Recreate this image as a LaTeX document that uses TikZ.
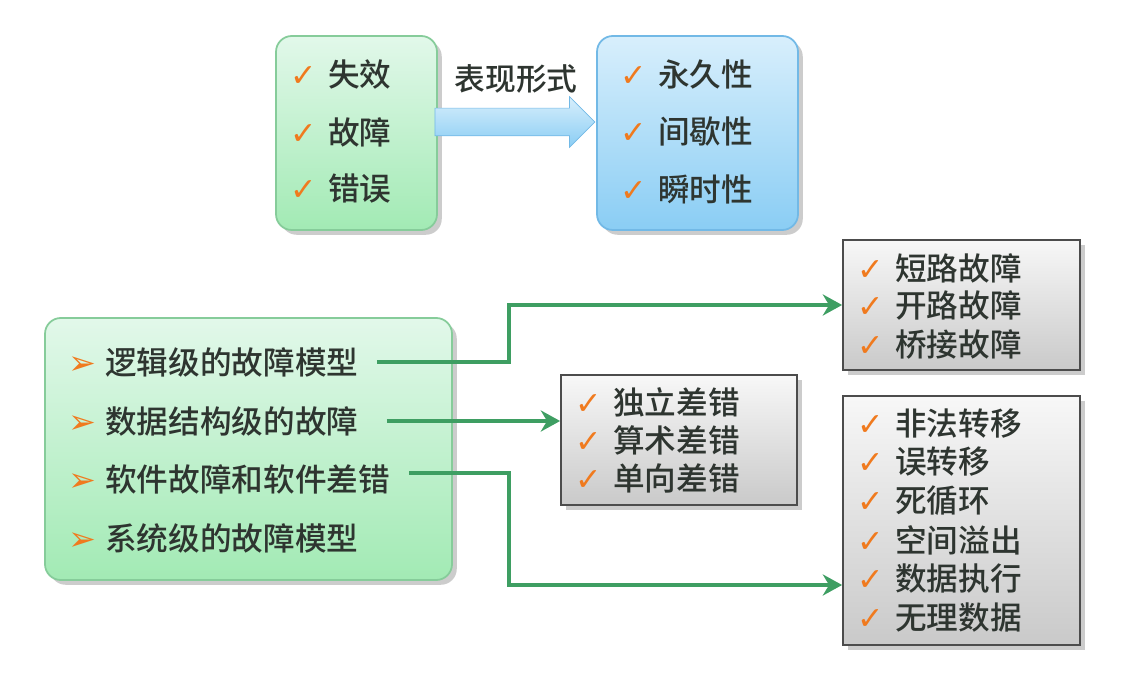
\documentclass[tikz,border=0pt]{standalone}
\usepackage{fontspec}
\setmainfont{Noto Sans CJK SC Medium}
\newfontfamily\symfont{DejaVu Sans}
\usepackage{xcolor}
\usetikzlibrary{positioning, arrows.meta, shapes.arrows, shadows, calc}

\definecolor{tickorange}{HTML}{F07A1E}
\definecolor{itemtext}{HTML}{2E3530}
\definecolor{linegreen}{HTML}{3E9E62}
\definecolor{greentop}{HTML}{E2F8EA}
\definecolor{greenbot}{HTML}{A2EAB4}
\definecolor{greenrim}{HTML}{86CC9A}
\definecolor{bluetop}{HTML}{D8EFFC}
\definecolor{bluebot}{HTML}{8ACDF4}
\definecolor{bluerim}{HTML}{72B9E6}

\newcommand{\tick}{\makebox[0.76cm][l]{\fontsize{18}{18}\selectfont\textcolor{tickorange}{\symfont ✓}}}
\newcommand{\pointer}{\makebox[0.74cm][l]{\fontsize{19}{19}\selectfont\textcolor{tickorange}{\symfont ➢}}}

\begin{document}
\begin{tikzpicture}[>=Stealth, font=\fontsize{18}{22}\selectfont,
  greenbox/.style={draw=greenrim, line width=1pt, rounded corners=9pt, top color=greentop, bottom color=greenbot, drop shadow={opacity=0.4}},
  bluebox/.style={draw=bluerim, line width=1pt, rounded corners=9pt, top color=bluetop, bottom color=bluebot, drop shadow={opacity=0.4}},
  graybox/.style={draw=black!70, line width=1pt, top color=gray!6, bottom color=gray!42, drop shadow={opacity=0.4}},
  item/.style={anchor=west, inner sep=0pt, text=itemtext},
  conn/.style={draw=linegreen, line width=2.4pt, -{Stealth[length=11pt, width=12pt]}}]
  \useasboundingbox (0,0) rectangle (22.6,13.5);

  % top row
  \node[greenbox, minimum width=3.22cm, minimum height=3.88cm] (kinds) at (7.13, 10.84) {};
  \node[bluebox, minimum width=4.02cm, minimum height=3.88cm] (forms) at (13.95, 10.84) {};
  \node[single arrow, draw=bluerim, top color=bluetop, bottom color=bluebot, minimum height=3.2cm, minimum width=1.0cm, single arrow head extend=0.23cm, inner xsep=0pt, inner ysep=0.27cm] (show) at (10.16, 11.06) {};
  \node[font=\fontsize{17.5}{20}\selectfont, text=itemtext] (showlabel) at (10.32, 11.92) {表现形式};

  \node[item] (k1) at (5.8, 12.0)  {\tick 失效};
  \node[item] (k2) at (5.8, 10.86) {\tick 故障};
  \node[item] (k3) at (5.8, 9.72)  {\tick 错误};
  \node[item] (f1) at (12.4, 12.0)  {\tick 永久性};
  \node[item] (f2) at (12.4, 10.86) {\tick 间歇性};
  \node[item] (f3) at (12.4, 9.72)  {\tick 瞬时性};

  % bottom part
  \node[greenbox, minimum width=8.14cm, minimum height=5.24cm] (models) at (4.97, 4.52) {};
  \node[graybox, minimum width=4.74cm, minimum height=2.6cm] (logic) at (19.23, 7.40) {};
  \node[graybox, minimum width=4.72cm, minimum height=2.6cm] (data) at (13.58, 4.70) {};
  \node[graybox, minimum width=4.74cm, minimum height=4.98cm] (soft) at (19.23, 3.09) {};

  \node[item] (m1) at (1.36, 6.26) {\pointer 逻辑级的故障模型};
  \node[item] (m2) at (1.36, 5.08) {\pointer 数据结构级的故障};
  \node[item] (m3) at (1.36, 3.92) {\pointer 软件故障和软件差错};
  \node[item] (m4) at (1.36, 2.74) {\pointer 系统级的故障模型};

  \node[item] (l1) at (17.14, 8.14) {\tick 短路故障};
  \node[item] (l2) at (17.14, 7.40) {\tick 开路故障};
  \node[item] (l3) at (17.14, 6.62) {\tick 桥接故障};

  \node[item] (d1) at (11.5, 5.46) {\tick 独立差错};
  \node[item] (d2) at (11.5, 4.70) {\tick 算术差错};
  \node[item] (d3) at (11.5, 3.94) {\tick 单向差错};

  \node[item] (s1) at (17.14, 5.02) {\tick 非法转移};
  \node[item] (s2) at (17.14, 4.26) {\tick 误转移};
  \node[item] (s3) at (17.14, 3.48) {\tick 死循环};
  \node[item] (s4) at (17.14, 2.70) {\tick 空间溢出};
  \node[item] (s5) at (17.14, 1.92) {\tick 数据执行};
  \node[item] (s6) at (17.14, 1.14) {\tick 无理数据};

  % connectors
  \coordinate (elbow) at (10.18, 0);
  \coordinate (m3out) at ([xshift=0.38cm, yshift=0.12cm]m3.east);
  \coordinate (softin) at ([yshift=-1.29cm]soft.west);
  \draw[conn] ([xshift=0.36cm]m1.east) -- (elbow |- m1.east) |- (logic.west);
  \draw[conn] ([xshift=0.56cm]m2.east) -- (m2.east -| data.west);
  \draw[conn] (m3out) -- (elbow |- m3out) |- (softin);
\end{tikzpicture}
\end{document}
